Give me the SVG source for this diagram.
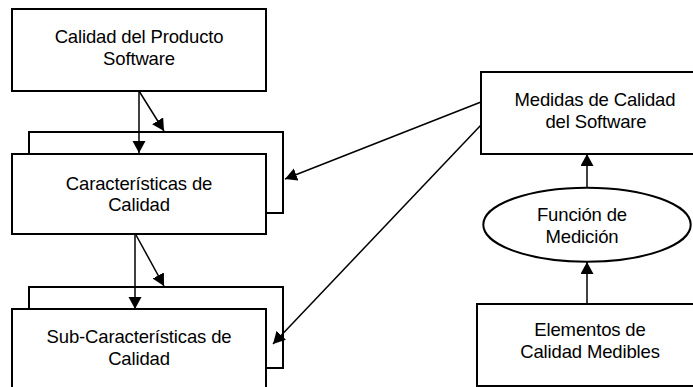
<svg xmlns="http://www.w3.org/2000/svg" width="693" height="387" viewBox="0 0 693 387">
  <style>
    .box { fill: #ffffff; stroke: #000000; stroke-width: 2; }
    .link { fill: none; stroke: #000000; stroke-width: 1.5; marker-end: url(#head); }
    .label { font-family: "Liberation Sans", Arial, sans-serif; font-size: 18.5px; letter-spacing: -0.15px; fill: #000000; text-anchor: middle; }
  </style>
  <defs>
    <marker id="head" markerUnits="userSpaceOnUse" markerWidth="13" markerHeight="14" refX="12" refY="6.5" orient="auto">
      <path d="M0,0 L12,6.5 L0,13 Z" fill="#000000"/>
    </marker>
  </defs>
  <rect width="693" height="387" fill="#ffffff"/>

  <g id="producto">
    <rect class="box" x="12" y="9" width="254" height="82"/>
    <text class="label" x="139" y="43">Calidad del Producto</text>
    <text class="label" x="139" y="65">Software</text>
  </g>

  <g id="caracteristicas">
    <rect class="box" x="29" y="132" width="254" height="81"/>
    <rect class="box" x="12" y="154" width="254" height="80"/>
    <text class="label" x="139" y="190">Características de</text>
    <text class="label" x="139" y="211">Calidad</text>
  </g>

  <g id="subcaracteristicas">
    <rect class="box" x="29" y="287" width="254" height="81"/>
    <rect class="box" x="12" y="309" width="254" height="82"/>
    <text class="label" x="139" y="343">Sub-Características de</text>
    <text class="label" x="139" y="365">Calidad</text>
  </g>

  <g id="medidas">
    <rect class="box" x="481" y="72" width="230" height="82"/>
    <text class="label" x="595" y="106">Medidas de Calidad</text>
    <text class="label" x="596" y="128">del Software</text>
  </g>

  <g id="funcion">
    <ellipse class="box" cx="587" cy="224.7" rx="103.7" ry="37"/>
    <text class="label" x="582" y="221">Función de</text>
    <text class="label" x="582" y="243">Medición</text>
  </g>

  <g id="elementos">
    <rect class="box" x="477" y="304" width="226" height="82"/>
    <text class="label" x="590" y="336">Elementos de</text>
    <text class="label" x="590" y="358">Calidad Medibles</text>
  </g>

  <g id="connectors">
    <line class="link" x1="139" y1="91" x2="139" y2="153"/>
    <line class="link" x1="139" y1="91" x2="164" y2="131"/>
    <line class="link" x1="135" y1="234" x2="135" y2="309"/>
    <line class="link" x1="136" y1="235" x2="164" y2="286"/>
    <line class="link" x1="481" y1="102" x2="285" y2="179"/>
    <line class="link" x1="481" y1="125" x2="273" y2="344"/>
    <line class="link" x1="587" y1="188" x2="587" y2="154"/>
    <line class="link" x1="587" y1="304" x2="587" y2="262"/>
  </g>
</svg>
